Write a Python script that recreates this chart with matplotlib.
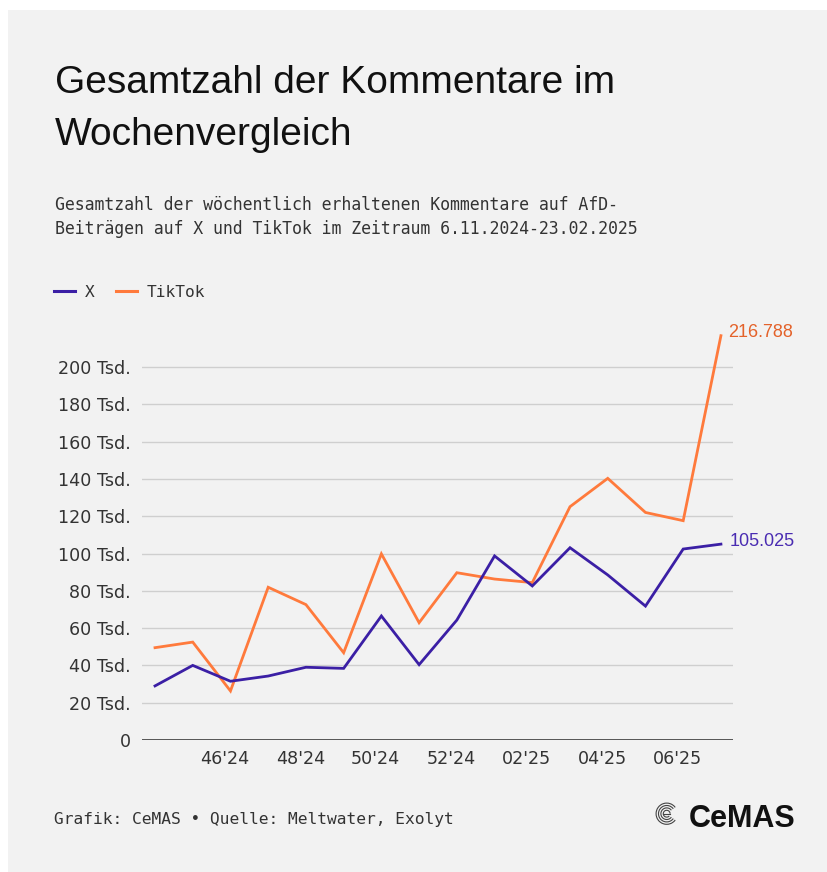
import numpy as np
import matplotlib
matplotlib.use("Agg")
import matplotlib.pyplot as plt
from matplotlib.patches import Rectangle, Arc

# ---- data (Tsd. comments per week) ----
x_values = [29.0, 40.0, 31.5, 34.3, 39.0, 38.4, 66.5, 40.4, 64.3, 98.7,
            82.6, 103.1, 88.5, 71.8, 102.4, 105.025]
tiktok_values = [49.5, 52.5, 26.3, 81.9, 72.6, 46.8, 99.8, 62.9, 89.7, 86.3,
                 84.4, 125.1, 140.3, 122.0, 117.6, 216.788]
x_ticklabels = ["46'24", "48'24", "50'24", "52'24", "02'25", "04'25", "06'25"]
y_ticks = [0, 20, 40, 60, 80, 100, 120, 140, 160, 180, 200]
y_ticklabels = ["0"] + [f"{v} Tsd." for v in y_ticks[1:]]
series_names = ["X", "TikTok"]
end_labels = ["105.025", "216.788"]

C_X = "#3b1fa5"
C_TT = "#ff7a3c"
C_X_LBL = "#4a2cb2"
C_TT_LBL = "#e4622a"

W, H = 827, 872
fig = plt.figure(figsize=(W / 100, H / 100), dpi=100, facecolor="white")

def fx(px):
    return px / W

def fy(py):
    return 1 - py / H

# background panel
fig.patches.append(Rectangle((fx(8), 0), 1 - fx(8), fy(10), transform=fig.transFigure,
                             facecolor="#f2f2f2", edgecolor="none", zorder=-10))

# axes
ax_left, ax_right, ax_bottom, ax_top = 142, 733, 740, 329.7
ax = fig.add_axes([fx(ax_left), fy(ax_bottom), fx(ax_right - ax_left), (ax_bottom - ax_top) / H])
ax.set_facecolor("none")
ax.set_zorder(5)

n = len(x_values)
xs = np.arange(n)
ax.plot(xs, tiktok_values, color=C_TT, lw=2.0, solid_joinstyle="miter", zorder=3)
ax.plot(xs, x_values, color=C_X, lw=2.0, solid_joinstyle="miter", zorder=4)

ax.set_xlim(-0.345, n - 1 + 0.32)
ax.set_ylim(0, 220)

for v in y_ticks[1:]:
    ax.axhline(v, color="#cfcfcf", lw=1.0, zorder=1)
ax.axhline(0, color="#555555", lw=1.4, zorder=2)

ax.set_yticks(y_ticks)
ax.set_yticklabels(y_ticklabels, fontsize=12.6, family="DejaVu Sans", color="#333333")
ax.set_xticks(np.arange(2, 15, 2) - 0.15)
ax.set_xticklabels(x_ticklabels, fontsize=12.6, family="DejaVu Sans", color="#333333")
ax.tick_params(axis="both", length=0)
ax.tick_params(axis="y", pad=8)
ax.tick_params(axis="x", pad=7)
for s in ax.spines.values():
    s.set_visible(False)

# end labels
ax.annotate(end_labels[0], xy=(n - 1, x_values[-1]), xytext=(6, 2), textcoords="offset points",
            fontsize=13, family="Liberation Sans", color=C_X_LBL, va="center", ha="left",
            annotation_clip=False)
ax.annotate(end_labels[1], xy=(n - 1, tiktok_values[-1]), xytext=(5, 2.5), textcoords="offset points",
            fontsize=13, family="Liberation Sans", color=C_TT_LBL, va="center", ha="left",
            annotation_clip=False)

# title
fig.text(fx(55), fy(93.3), "Gesamtzahl der Kommentare im", fontsize=28, family="Liberation Sans",
         color="#111111", va="baseline")
fig.text(fx(55), fy(145), "Wochenvergleich", fontsize=28, family="Liberation Sans",
         color="#111111", va="baseline")

# subtitle
fig.text(fx(55), fy(210), "Gesamtzahl der wöchentlich erhaltenen Kommentare auf AfD-",
         fontsize=11.9, family="DejaVu Sans Mono", color="#333333", va="baseline")
fig.text(fx(55), fy(234.3), "Beiträgen auf X und TikTok im Zeitraum 6.11.2024-23.02.2025",
         fontsize=11.9, family="DejaVu Sans Mono", color="#333333", va="baseline")

# legend
fig.lines.append(plt.Line2D([fx(54), fx(75)], [fy(291), fy(291)], transform=fig.transFigure,
                            color=C_X, lw=2.2))
fig.text(fx(85), fy(296.7), series_names[0], fontsize=11.6, family="DejaVu Sans Mono",
         color="#333333", va="baseline")
fig.lines.append(plt.Line2D([fx(116), fx(137)], [fy(291), fy(291)], transform=fig.transFigure,
                            color=C_TT, lw=2.2))
fig.text(fx(147), fy(296.7), series_names[1], fontsize=11.6, family="DejaVu Sans Mono",
         color="#333333", va="baseline")

# footer
fig.text(fx(54), fy(824), "Grafik: CeMAS • Quelle: Meltwater, Exolyt", fontsize=11.7,
         family="DejaVu Sans Mono", color="#333333", va="baseline")

# logo
fig.text(fx(689), fy(827.3), "CeMAS", fontsize=22, family="Liberation Sans", weight="bold",
         color="#111111", va="baseline")
cx, cy = 666.7, 813.7
for r in [10.6, 8.2, 5.8]:
    fig.patches.append(Arc((fx(cx), fy(cy)), 2 * r / W, 2 * r / H, theta1=35, theta2=325,
                           transform=fig.transFigure, color="#444444", lw=0.8))
fig.patches.append(Arc((fx(cx), fy(cy)), 2 * 3.4 / W, 2 * 3.4 / H, theta1=0, theta2=320,
                       transform=fig.transFigure, color="#444444", lw=0.8))
fig.lines.append(plt.Line2D([fx(cx - 3.4), fx(cx + 3.4)], [fy(cy), fy(cy)],
                            transform=fig.transFigure, color="#444444", lw=0.8))

fig.savefig("out.png", dpi=100, facecolor="white")
